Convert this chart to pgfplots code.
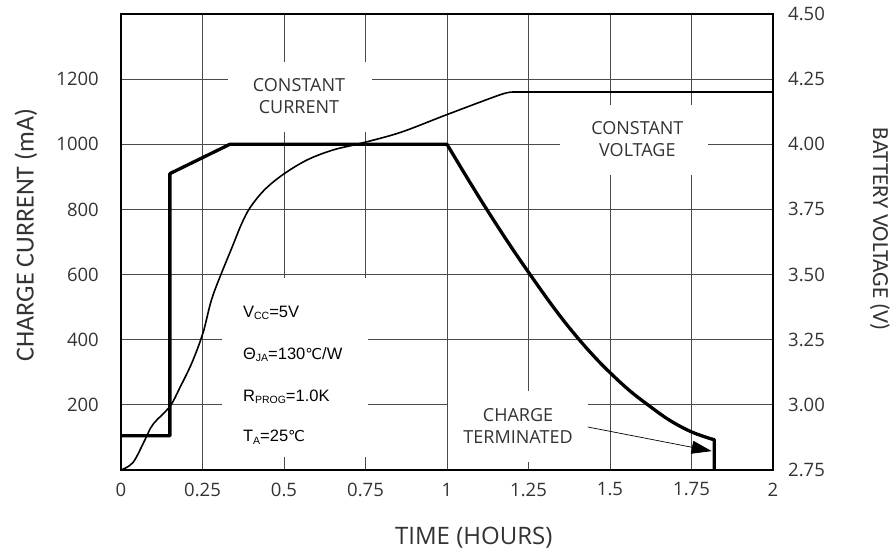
\documentclass[border=0pt]{standalone}
\usepackage{pgfplots}
\pgfplotsset{compat=1.18}
\usepackage{fontspec}
\usetikzlibrary{arrows.meta}
\setmainfont{Open Sans}
\newfontfamily\osans{Open Sans}
\newfontfamily\carlito{Carlito}
\newfontfamily\arial{Liberation Sans}
\newfontfamily\dejavu{DejaVu Sans}
\definecolor{txt}{HTML}{333333}
\definecolor{gridc}{HTML}{4A4A4A}
\newcommand\tickfont{\osans\fontsize{18.5}{20}\selectfont}
\newcommand\annfont{\osans\fontsize{18}{20}\selectfont}
\newcommand\vccfont{\arial\fontsize{16.5}{18}\selectfont}
\newcommand\sub[1]{\raisebox{-2.5pt}{\fontsize{10.5}{11}\selectfont #1}}
\newcommand\degc{{\dejavu\fontsize{15}{18}\selectfont ℃}}
\begin{document}
\begin{tikzpicture}[x=1pt,y=1pt]
\begin{axis}[
  at={(121pt,82pt)}, anchor=south west,
  width=652pt, height=456pt, scale only axis,
  xmin=0, xmax=2, ymin=0, ymax=1400,
  xtick={0,0.25,0.5,0.75,1,1.25,1.5,1.75,2},
  xticklabels={0,0.25,0.5,0.75,1,1.25,1.5,1.75,2},
  ytick={200,400,600,800,1000,1200},
  yticklabels={200,400,600,800,1000,1200},
  grid=major,
  major grid style={line width=0.9pt, color=gridc},
  major tick length=0pt,
  axis line style={line width=2.4pt},
  tick label style={font=\tickfont, text=txt, inner sep=0pt},
  xticklabel style={anchor=center, yshift=-19.5pt},
  yticklabel style={anchor=east, xshift=-22pt},
  xlabel={TIME (HOURS)},
  ylabel={CHARGE CURRENT (mA)},
  every axis x label/.style={at={(axis description cs:0.541,-0.149)}, anchor=center, font=\osans\fontsize{24}{26}\selectfont, text=txt},
  every axis y label/.style={at={(axis description cs:-0.1457,0.515)}, rotate=90, anchor=center, font=\carlito\fontsize{26}{28}\selectfont, text=txt},
]
% white label boxes over the grid
\fill[white] (axis cs:0.328,1038) rectangle (axis cs:0.77,1253);
\fill[white] (axis cs:1.347,907) rectangle (axis cs:1.80,1121);
\fill[white] (axis cs:1.004,25) rectangle (axis cs:1.432,242);
\fill[white] (axis cs:0.31,40) rectangle (axis cs:0.757,591);
% charge current
\addplot[line width=3.3pt, line join=round, line cap=round] coordinates {
 (0,105) (0.15,105) (0.15,910) (0.334,1000) (1.0,1000)};
\addplot[line width=3.3pt, smooth, tension=0.6, line cap=round] coordinates {
 (1.0,1000) (1.06,900) (1.122,800) (1.19,695) (1.255,600) (1.33,495) (1.393,415) (1.45,350) (1.5,299) (1.561,243) (1.623,195) (1.684,152) (1.75,117) (1.812,95)};
\addplot[line width=3.3pt, line join=round] coordinates {
 (1.812,95) (1.82,93) (1.82,0)};
% labels
\node[font=\annfont, text=txt, anchor=base] at (axis cs:0.546,1161) {CONSTANT};
\node[font=\annfont, text=txt, anchor=base] at (axis cs:0.546,1096) {CURRENT};
\node[font=\annfont, text=txt, anchor=base] at (axis cs:1.584,1029) {CONSTANT};
\node[font=\annfont, text=txt, anchor=base] at (axis cs:1.584,962) {VOLTAGE};
\node[font=\annfont, text=txt, anchor=base] at (axis cs:1.218,150) {CHARGE};
\node[font=\annfont, text=txt, anchor=base] at (axis cs:1.218,80) {TERMINATED};
\node[font=\vccfont, anchor=base west, inner sep=0pt] at (axis cs:0.374,469) {V\sub{CC}=5V};
\node[font=\vccfont, anchor=base west, inner sep=0pt] at (axis cs:0.374,340) {Θ\sub{JA}=130\degc/W};
\node[font=\vccfont, anchor=base west, inner sep=0pt] at (axis cs:0.374,211) {R\sub{PROG}=1.0K};
\node[font=\vccfont, anchor=base west, inner sep=0pt] at (axis cs:0.374,86) {T\sub{A}=25\degc};
\draw[line width=0.7pt, -{Triangle[length=20pt,width=13pt]}] (axis cs:1.432,132) -- (axis cs:1.812,58);
\end{axis}
\begin{axis}[
  at={(121pt,82pt)}, anchor=south west,
  width=652pt, height=456pt, scale only axis,
  xmin=0, xmax=2, ymin=2.75, ymax=4.5,
  axis x line=none, axis y line*=right,
  ytick={2.75,3,3.25,3.5,3.75,4,4.25,4.5},
  yticklabels={2.75,3.00,3.25,3.50,3.75,4.00,4.25,4.50},
  major tick length=0pt,
  axis line style={line width=2.4pt},
  yticklabel style={font=\tickfont, text=txt, inner sep=0pt, anchor=west, xshift=15pt},
  ylabel={BATTERY VOLTAGE (V)},
  every axis y label/.style={at={(axis description cs:1.164,0.528)}, rotate=-90, anchor=center, font=\carlito\fontsize{23}{25}\selectfont, text=txt},
]
\addplot[line width=1.6pt, smooth, tension=0.55] coordinates {
 (0,2.75) (0.037,2.779) (0.074,2.867) (0.098,2.925) (0.15,2.994) (0.181,3.067) (0.218,3.163) (0.252,3.278) (0.282,3.42) (0.344,3.615) (0.37,3.695) (0.396,3.757) (0.44,3.825) (0.497,3.884) (0.571,3.94) (0.65,3.978) (0.733,4.003) (0.856,4.045) (1.0,4.114) (1.163,4.19) (1.2,4.2)};
\addplot[line width=1.6pt] coordinates {(1.2,4.2) (2,4.2)};
\end{axis}
\pgfresetboundingbox
\useasboundingbox (0,0) rectangle (895,552);
\end{tikzpicture}
\end{document}
